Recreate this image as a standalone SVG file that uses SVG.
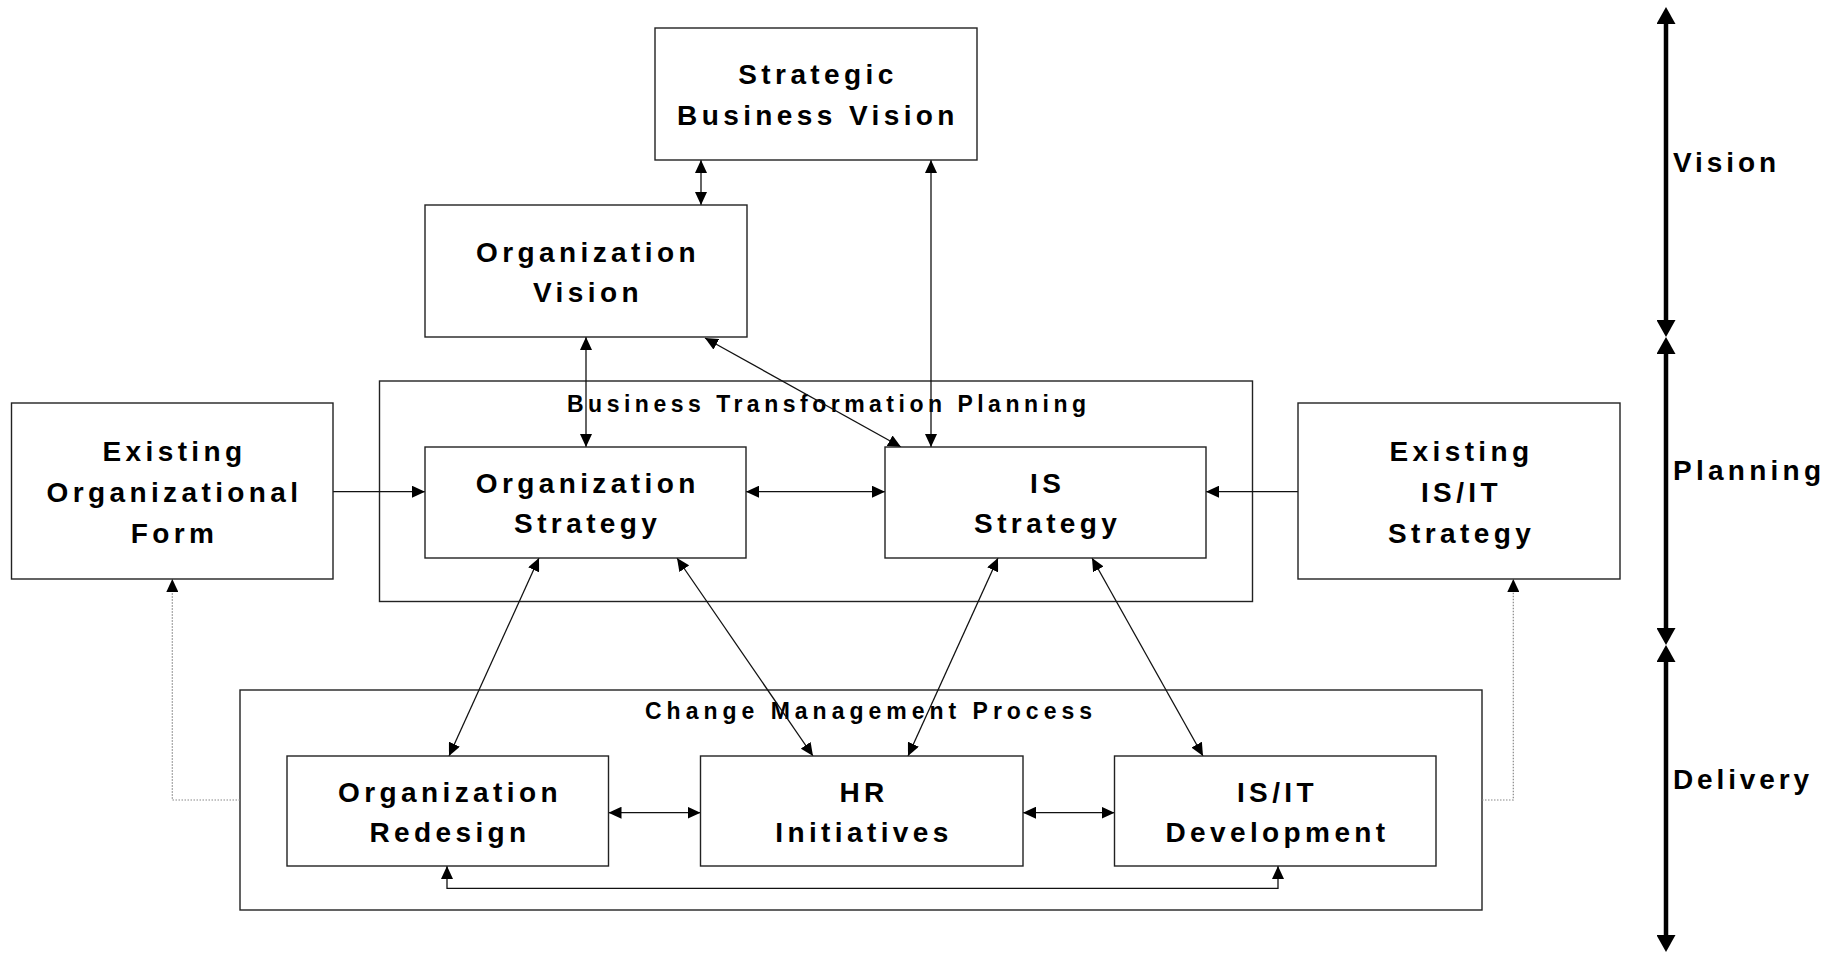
<svg xmlns="http://www.w3.org/2000/svg" width="1836" height="953" viewBox="0 0 1836 953">
<defs>
<style>
.box{fill:#fff;stroke:#222;stroke-width:1.4}
.cont{fill:none;stroke:#222;stroke-width:1.4}
.t{font-family:"Liberation Sans",Arial,sans-serif;font-weight:bold;font-size:28px;letter-spacing:4.4px;fill:#000;text-anchor:middle}
.ct{font-family:"Liberation Sans",Arial,sans-serif;font-weight:bold;font-size:23px;fill:#000}
.ax{font-family:"Liberation Sans",Arial,sans-serif;font-weight:bold;font-size:28px;fill:#000}
.c{fill:none;stroke:#111;stroke-width:1.3;marker-end:url(#ah)}
.c2{marker-start:url(#ah)}
.dot{fill:none;stroke:#888;stroke-width:1.2;stroke-dasharray:1.5 1.5;marker-end:url(#ah)}
.axl{fill:none;stroke:#000;stroke-width:4.5;marker-start:url(#bh);marker-end:url(#bh)}
</style>
<marker id="ah" markerUnits="userSpaceOnUse" markerWidth="13" markerHeight="12" refX="13" refY="6" orient="auto-start-reverse"><path d="M0,0 L13,6 L0,12 z" fill="#000"/></marker>
<marker id="bh" markerUnits="userSpaceOnUse" markerWidth="17" markerHeight="19" refX="0" refY="9.5" orient="auto-start-reverse"><path d="M0,0 L17,9.5 L0,19 z" fill="#000"/></marker>
</defs>
<rect width="1836" height="953" fill="#fff"/>

<g id="btp-container">
<rect class="cont" x="379.5" y="381" width="873" height="220.5"/>
<text class="ct" x="567" y="411.7" textLength="519" lengthAdjust="spacing">Business Transformation Planning</text>
</g>
<g id="cm-container">
<rect class="cont" x="240" y="690" width="1242" height="220"/>
<text class="ct" x="645" y="719.3" textLength="447" lengthAdjust="spacing">Change Management Process</text>
</g>

<g id="connectors">
<path class="c c2" d="M701,160 V205"/>
<path class="c c2" d="M931,160 V447"/>
<path class="c c2" d="M586,337 V447"/>
<path class="c c2" d="M705,338 L901,447"/>
<path class="c" d="M333,491.7 H425"/>
<path class="c c2" d="M746,491.7 H885"/>
<path class="c" d="M1298,491.7 H1206"/>
<path class="c c2" d="M539,558 L449,756"/>
<path class="c c2" d="M677,558 L813,756"/>
<path class="c c2" d="M998,558 L908,756"/>
<path class="c c2" d="M1092,558 L1203,756"/>
<path class="c c2" d="M608.5,812.7 H700.5"/>
<path class="c c2" d="M1023,812.7 H1114.5"/>
<path class="c c2" d="M447,866 V888.3 H1278 V866"/>
<path class="dot" d="M240,800 H172.3 V579"/>
<path class="dot" d="M1482,800 H1513.3 V579"/>
</g>

<g id="sbv">
<rect class="box" x="655" y="28" width="322" height="132"/>
<text class="t" x="818" y="84.3">Strategic</text>
<text class="t" x="818" y="125">Business Vision</text>
</g>
<g id="ov">
<rect class="box" x="425" y="205" width="322" height="132"/>
<text class="t" x="588" y="261.7">Organization</text>
<text class="t" x="588" y="301.7">Vision</text>
</g>
<g id="eof">
<rect class="box" x="11.5" y="403" width="321.5" height="176"/>
<text class="t" x="174.5" y="461">Existing</text>
<text class="t" x="174.5" y="501.7">Organizational</text>
<text class="t" x="174.5" y="543.3">Form</text>
</g>
<g id="os">
<rect class="box" x="425" y="447" width="321" height="111"/>
<text class="t" x="587.7" y="492.7">Organization</text>
<text class="t" x="587.7" y="533.3">Strategy</text>
</g>
<g id="iss">
<rect class="box" x="885" y="447" width="321" height="111"/>
<text class="t" x="1047.7" y="492.7">IS</text>
<text class="t" x="1047.7" y="533.3">Strategy</text>
</g>
<g id="eis">
<rect class="box" x="1298" y="403" width="322" height="176"/>
<text class="t" x="1461.5" y="461">Existing</text>
<text class="t" x="1461.5" y="501.7">IS/IT</text>
<text class="t" x="1461.5" y="543.3">Strategy</text>
</g>
<g id="or">
<rect class="box" x="287" y="756" width="321.5" height="110"/>
<text class="t" x="450" y="801.7">Organization</text>
<text class="t" x="450" y="841.7">Redesign</text>
</g>
<g id="hr">
<rect class="box" x="700.5" y="756" width="322.5" height="110"/>
<text class="t" x="864" y="801.7">HR</text>
<text class="t" x="864" y="841.7">Initiatives</text>
</g>
<g id="isd">
<rect class="box" x="1114.5" y="756" width="321.5" height="110"/>
<text class="t" x="1277.5" y="801.7">IS/IT</text>
<text class="t" x="1277.5" y="841.7">Development</text>
</g>

<g id="axis">
<path class="axl" d="M1666,24 V320"/>
<path class="axl" d="M1666,354 V628"/>
<path class="axl" d="M1666,662 V935"/>
<text class="ax" x="1673" y="171.7" textLength="103" lengthAdjust="spacing">Vision</text>
<text class="ax" x="1673" y="480" textLength="148" lengthAdjust="spacing">Planning</text>
<text class="ax" x="1673" y="789" textLength="136" lengthAdjust="spacing">Delivery</text>
</g>
</svg>
